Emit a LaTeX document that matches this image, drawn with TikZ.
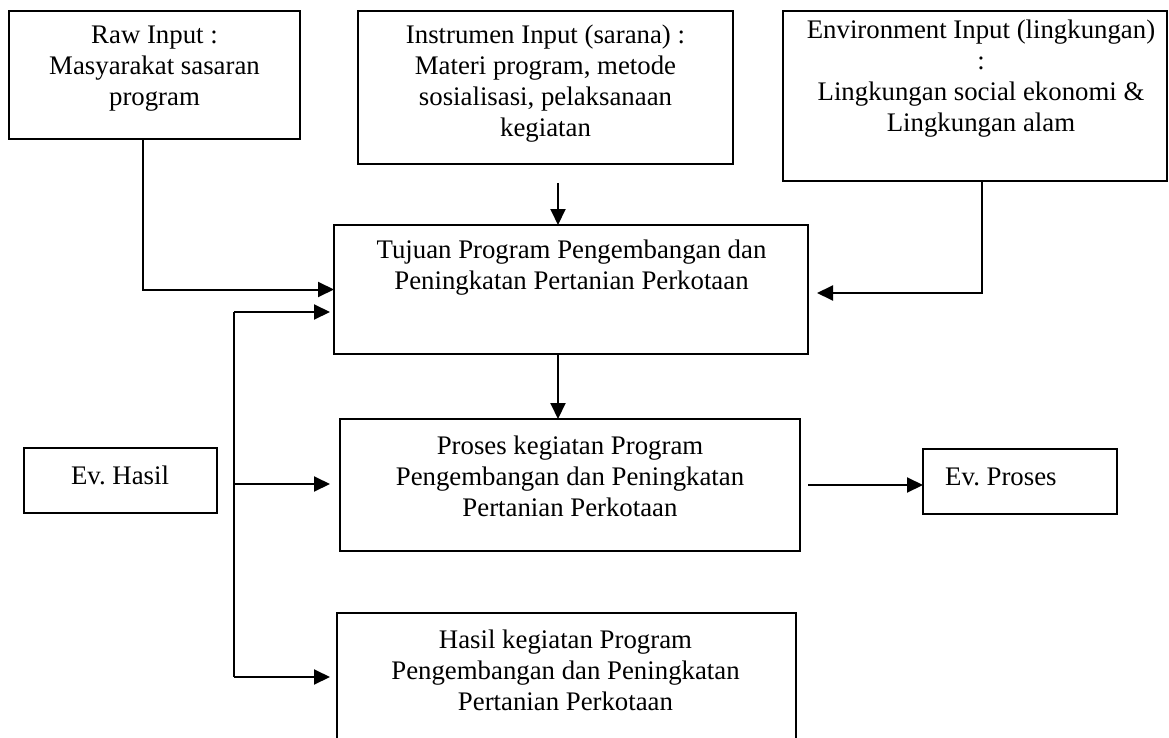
\documentclass[tikz,border=0pt]{standalone}
\usepackage{fontspec}
\setmainfont{Liberation Serif}
\usetikzlibrary{arrows.meta,calc}
\frenchspacing
\begin{document}
\begin{tikzpicture}[x=1pt,y=-1pt,
  box/.style={draw,line width=1.8pt,inner sep=0pt,outer sep=0pt},
  txt/.style={align=center,inner sep=0pt,font=\fontsize{26.8}{31}\selectfont},
  link/.style={line width=2pt},
  arr/.style={line width=2pt,-{Triangle[length=16pt,width=15pt]}}]
\useasboundingbox (0,0) rectangle (1169,738);
% boxes
\node[box,minimum width=291pt,minimum height=128pt] (raw) at (154.5,75) {};
\node[txt] (rawt) at (154.5,69) {Raw Input :\\Masyarakat sasaran\\program};
\node[box,minimum width=375pt,minimum height=153pt] (instr) at (545.5,87.5) {};
\node[txt] (instrt) at (545.5,84) {Instrumen Input (sarana) :\\Materi program, metode\\sosialisasi, pelaksanaan\\kegiatan};
\node[box,minimum width=384pt,minimum height=170pt] (env) at (975,96) {};
\node[txt] (envt) at (981,79) {Environment Input (lingkungan)\\:\\Lingkungan social ekonomi \&\\Lingkungan alam};
\node[box,minimum width=474pt,minimum height=129pt] (tujuan) at (571,289.5) {};
\node[txt] (tujuant) at (571.5,268) {Tujuan Program Pengembangan dan\\Peningkatan Pertanian Perkotaan};
\node[box,minimum width=460pt,minimum height=132pt] (proses) at (570,485) {};
\node[txt] (prosest) at (570,476.7) {Proses kegiatan Program\\Pengembangan dan Peningkatan\\Pertanian Perkotaan};
\node[box,minimum width=459pt,minimum height=147pt] (hasil) at (566.5,686.5) {};
\node[txt] (hasilt) at (565.5,670) {Hasil kegiatan Program\\Pengembangan dan Peningkatan\\Pertanian Perkotaan};
\node[box,minimum width=193pt,minimum height=65pt] (evh) at (120.5,480.5) {};
\node[txt] (evht) at (120,475) {Ev.\ Hasil};
\node[box,minimum width=194pt,minimum height=65pt] (evp) at (1020,481.5) {};
\node[txt,anchor=west] (evpt) at (945,477) {Ev.\ Proses};
% connectors
\draw[arr] ([xshift=-11.5pt]raw.south) |- (tujuan.west);
\draw[arr] ([xshift=12.5pt,yshift=-19pt]instr.south) -- ([xshift=-13pt]tujuan.north);
\draw[arr] ([xshift=7pt]env.south) |- ([xshift=9pt,yshift=-3.5pt]tujuan.east);
\draw[arr] ([xshift=-13pt]tujuan.south) -- ([xshift=-13pt]tujuan.south |- proses.north);
\draw[arr] ([xshift=8pt]proses.east) -- (proses.east -| evp.west);
\coordinate (fbtop) at (234,312);
\coordinate (fbmid) at (234,484);
\coordinate (fbbot) at (234,677);
\draw[link] (fbtop) -- (fbbot);
\draw[arr] (fbtop) -- ($(fbtop -| tujuan.west)+(-4,0)$);
\draw[arr] (fbmid) -- ($(fbmid -| proses.west)+(-10,0)$);
\draw[arr] (fbbot) -- ($(fbbot -| hasil.west)+(-7,0)$);
\end{tikzpicture}
\end{document}
